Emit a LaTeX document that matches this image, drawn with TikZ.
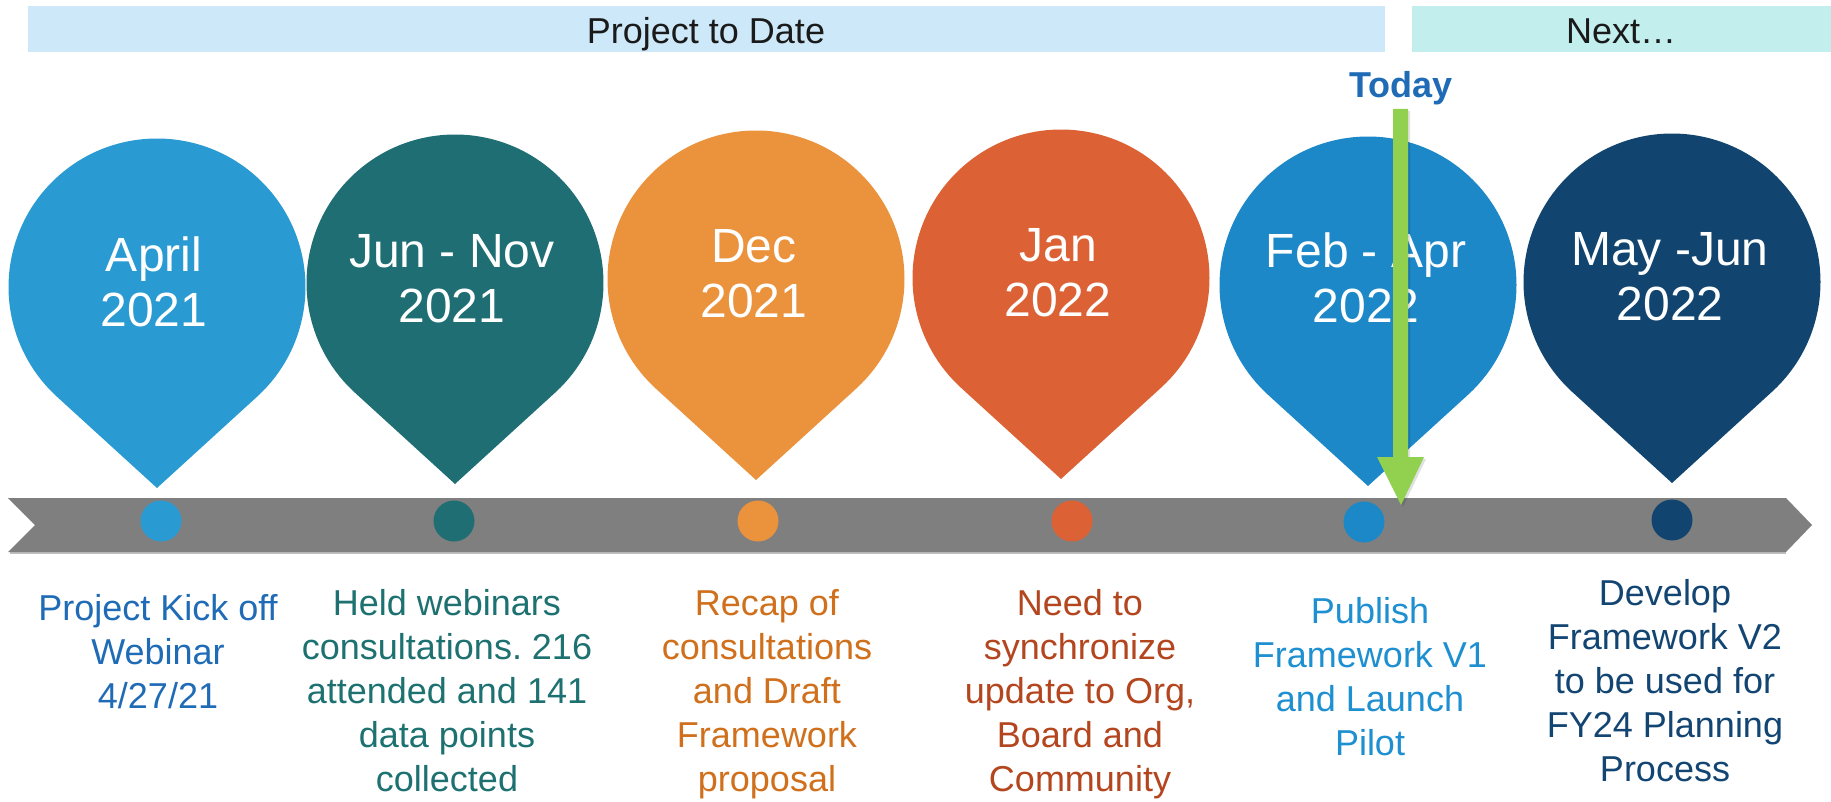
\documentclass[tikz,border=0pt]{standalone}
\usepackage{fontspec}
\setmainfont{Liberation Sans}
\usetikzlibrary{calc}
\frenchspacing
\definecolor{pinA}{HTML}{2A9AD2}
\definecolor{pinB}{HTML}{1E6E73}
\definecolor{pinC}{HTML}{EA923C}
\definecolor{pinD}{HTML}{DC6235}
\definecolor{pinE}{HTML}{1C88C8}
\definecolor{pinF}{HTML}{11446E}
\definecolor{txtA}{HTML}{1F6BB6}
\definecolor{txtB}{HTML}{1E7171}
\definecolor{txtC}{HTML}{D0701C}
\definecolor{txtD}{HTML}{B4461F}
\definecolor{txtE}{HTML}{1E8FD0}
\definecolor{txtF}{HTML}{134573}
\definecolor{barA}{HTML}{CDE8F8}
\definecolor{barB}{HTML}{C2EEEE}
\definecolor{tlgray}{HTML}{7F7F7F}
\definecolor{todaygreen}{HTML}{92D050}
\definecolor{todayblue}{HTML}{1F6BB5}
\definecolor{toptext}{HTML}{1A1A1A}
\newcommand\drawpin[4]{% name, cx, cy, color
  \coordinate (#1c) at (#2,#3);
  \fill[#4] (#2,#3+201) -- ($(#1c)+(47.63:148.5)$)
    arc[start angle=47.63,end angle=-227.63,radius=148.5] -- cycle;}
\tikzset{
  pintext/.style={text=white,align=center,inner sep=0pt,font=\fontsize{48}{55}\selectfont},
  desc/.style={align=center,inner sep=0pt,anchor=north,font=\fontsize{36}{44}\selectfont\frenchspacing},
  dot/.style={circle,inner sep=0pt,minimum size=41pt},
  phase/.style={inner sep=0pt,anchor=base,text=toptext,font=\fontsize{36}{44}\selectfont}
}
\begin{document}
\begin{tikzpicture}[x=1pt,y=-1pt]
\useasboundingbox (0,0) rectangle (1831,802);
% top phase bars
\fill[barA] (28,6) rectangle (1385,52);
\fill[barB] (1412,6) rectangle (1831,52);
\node[phase] (ptd) at (706,44) {Project to Date};
\node[phase] (nxt) at (1621,44) {Next…};
% pins
\drawpin{p1}{157}{287}{pinA}
\drawpin{p2}{455}{283}{pinB}
\drawpin{p3}{756}{279}{pinC}
\drawpin{p4}{1061}{278}{pinD}
\drawpin{p5}{1368}{285}{pinE}
\drawpin{p6}{1672}{282}{pinF}
\node[pintext] (t1) at (154,282) {April\\2021};
\node[pintext] (t2) at (452,279) {Jun - Nov\\2021};
\node[pintext] (t3) at (754,274) {Dec\\2021};
\node[pintext] (t4) at (1058,273) {Jan\\2022};
\node[pintext] (t5) at (1366,278) {Feb - Apr\\2022};
\node[pintext] (t6) at (1670,277) {May -Jun\\2022};
% timeline bar
\draw[color=black!25,line width=2pt] (10,553) -- (1786,553);
\fill[tlgray] (8,498) -- (1786,498) -- (1812,525) -- (1786,552) -- (8,552) -- (35,525) -- cycle;
\node[dot,fill=pinA] (d1) at (161,521) {};
\node[dot,fill=pinB] (d2) at (454,521) {};
\node[dot,fill=pinC] (d3) at (758,521) {};
\node[dot,fill=pinD] (d4) at (1072,521) {};
\node[dot,fill=pinE] (d5) at (1364,522) {};
\node[dot,fill=pinF] (d6) at (1672,520) {};
% today arrow
\node[inner sep=0pt,anchor=base,text=todayblue,font=\fontsize{36}{44}\selectfont\bfseries] (today) at (1401,98) {Today};
\fill[black,opacity=0.12] (1395,111) -- (1410,111) -- (1410,459) -- (1426,459) -- (1403,507) -- (1379,459) -- (1395,459) -- cycle;
\fill[todaygreen] (1393,109) -- (1408,109) -- (1408,457) -- (1424,457) -- (1401,505) -- (1377,457) -- (1393,457) -- cycle;
% descriptions
\node[desc,text=txtA] (b1) at (158,594) {Project Kick off\\Webinar\\4/27/21};
\node[desc,text=txtB] (b2) at (447,589) {Held webinars\\consultations. 216\\attended and 141\\data points\\collected};
\node[desc,text=txtC] (b3) at (767,589) {Recap of\\consultations\\and Draft\\Framework\\proposal};
\node[desc,text=txtD] (b4) at (1080,589) {Need to\\synchronize\\update to Org,\\Board and\\Community};
\node[desc,text=txtE] (b5) at (1370,597) {Publish\\Framework V1\\and Launch\\Pilot};
\node[desc,text=txtF] (b6) at (1665,579) {Develop\\Framework V2\\to be used for\\FY24 Planning\\Process};
\end{tikzpicture}
\end{document}
